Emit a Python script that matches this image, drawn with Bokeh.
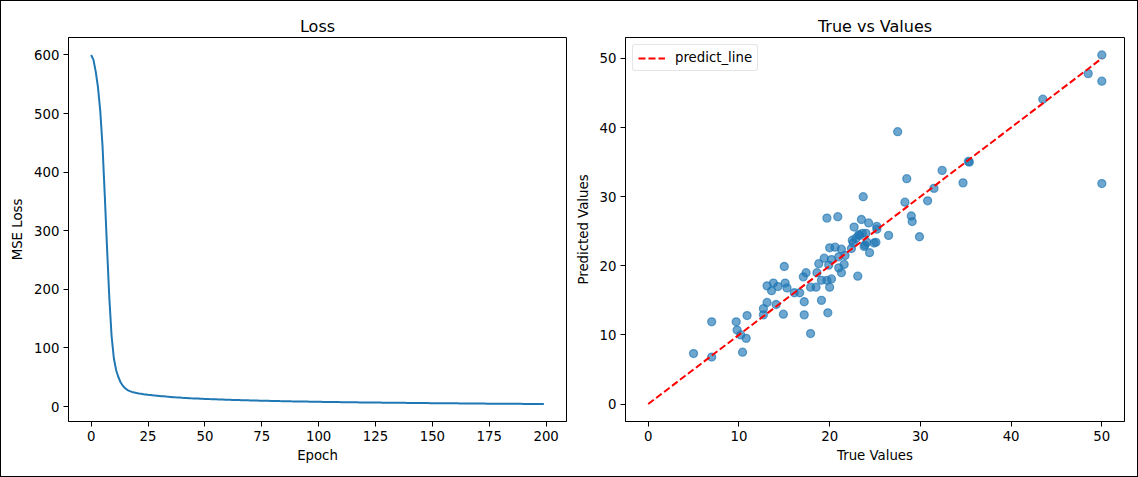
from bokeh.plotting import figure
from bokeh.layouts import row, column
from bokeh.models import Range1d, FixedTicker, Div
from bokeh.embed import file_html
from bokeh.resources import INLINE

# ---------------- data ----------------
loss = [
    600, 592, 572, 545, 505, 445, 360, 270, 185, 120,
    82, 62, 50, 41, 35, 31, 28.2, 26.4, 25.0, 24.0,
    23.1, 22.4, 21.8, 21.2, 20.7, 20.2, 19.8, 19.3, 18.9, 18.5,
    18.1, 17.7, 17.4, 17.0, 16.7, 16.4, 16.1, 15.8, 15.6, 15.3,
    15.0, 14.8, 14.6, 14.4, 14.1, 13.9, 13.7, 13.6, 13.4, 13.2,
    13.0, 12.9, 12.7, 12.6, 12.4, 12.3, 12.1, 12.0, 11.9, 11.7,
    11.6, 11.5, 11.4, 11.3, 11.1, 11.0, 10.9, 10.8, 10.7, 10.6,
    10.5, 10.4, 10.3, 10.2, 10.1, 10.0, 9.9, 9.85, 9.75, 9.65,
    9.55, 9.5, 9.4, 9.3, 9.25, 9.15, 9.1, 9.0, 8.9, 8.85,
    8.8, 8.7, 8.65, 8.55, 8.5, 8.45, 8.35, 8.3, 8.25, 8.2,
    8.1, 8.05, 8.0, 7.95, 7.9, 7.8, 7.75, 7.7, 7.65, 7.6,
    7.55, 7.5, 7.45, 7.4, 7.35, 7.3, 7.25, 7.2, 7.15, 7.1,
    7.05, 7.0, 6.95, 6.9, 6.85, 6.8, 6.8, 6.75, 6.7, 6.65,
    6.6, 6.55, 6.5, 6.5, 6.45, 6.4, 6.35, 6.3, 6.3, 6.25,
    6.2, 6.15, 6.1, 6.1, 6.05, 6.0, 5.95, 5.95, 5.9, 5.85,
    5.8, 5.8, 5.75, 5.7, 5.7, 5.65, 5.6, 5.6, 5.55, 5.5,
    5.5, 5.45, 5.4, 5.4, 5.35, 5.3, 5.3, 5.25, 5.2, 5.2,
    5.15, 5.1, 5.1, 5.05, 5.0, 5.0, 4.95, 4.95, 4.9, 4.85,
    4.85, 4.8, 4.8, 4.75, 4.7, 4.7, 4.65, 4.65, 4.6, 4.6,
    4.55, 4.5, 4.5, 4.45, 4.45, 4.4, 4.4, 4.35, 4.35, 4.3,
]
epochs = list(range(len(loss)))

true_vals = [
    5.0, 7.0, 7.0, 9.7, 9.8, 10.2, 10.4, 10.8, 10.9, 12.7,
    12.7, 13.1, 13.1, 13.6, 13.8, 14.1, 14.3, 14.9, 15.0, 15.1,
    15.3, 16.1, 16.7, 17.2, 17.2, 17.1, 17.4, 17.9, 17.9, 18.5,
    18.6, 18.8, 19.1, 19.1, 19.4, 19.7, 19.7, 19.8, 19.9, 20.0,
    20.0, 20.2, 20.2, 20.6, 20.9, 21.0, 21.3, 21.3, 21.6, 21.0,
    21.7, 22.4, 22.6, 22.7, 22.5, 23.1, 23.2, 23.5, 23.6, 23.7,
    23.9, 24.0, 24.3, 24.1, 24.4, 25.1, 25.2, 25.2, 24.9, 26.5,
    27.5, 28.3, 28.5, 29.0, 29.1, 29.9, 30.8, 31.5, 32.4, 34.7,
    35.3, 35.4, 43.5, 48.5, 50.0, 50.0, 50.0, 22.9, 23.3, 23.8,
]
pred_vals = [
    7.3, 6.8, 11.9, 11.9, 10.7, 10.0, 7.5, 9.5, 12.8, 12.9,
    13.8, 14.7, 17.1, 16.4, 17.5, 14.4, 17.0, 13.0, 19.9, 17.5,
    16.8, 16.1, 16.1, 14.8, 12.9, 18.4, 19.0, 10.2, 16.9, 16.9,
    19.0, 20.3, 15.0, 17.9, 21.1, 17.9, 26.9, 13.2, 20.1, 16.9,
    22.6, 18.1, 20.9, 22.7, 27.1, 19.7, 19.0, 22.4, 20.2, 21.3,
    21.5, 22.5, 23.3, 25.6, 23.7, 18.5, 24.5, 26.7, 24.7, 30.0,
    23.0, 24.7, 26.2, 23.4, 21.9, 23.4, 25.7, 25.3, 23.3, 24.4,
    39.4, 29.2, 32.6, 27.2, 26.4, 24.2, 29.4, 31.2, 33.8, 32.0,
    35.1, 35.0, 44.1, 47.8, 50.5, 46.7, 31.9, 24.0, 24.4, 22.8,
]
line_x = [min(0, min(true_vals)), max(true_vals)]
line_y = [min(0, min(true_vals)), max(true_vals)]

loss_ticks = [0, 25, 50, 75, 100, 125, 150, 175, 200]
loss_yticks = [0, 100, 200, 300, 400, 500, 600]
tv_ticks = [0, 10, 20, 30, 40, 50]

BLUE = "#1f77b4"
FONT = "DejaVu Sans"


def pad(lo, hi, frac=0.05):
    r = hi - lo
    return lo - frac * r, hi + frac * r


def style(p, xlabel, ylabel, xt, yt):
    p.title.text_font = FONT
    p.title.text_font_size = "16px"
    p.title.text_font_style = "normal"
    p.title.text_color = "black"
    p.title.align = "center"
    p.title.standoff = 4
    p.xgrid.visible = False
    p.ygrid.visible = False
    p.outline_line_color = "black"
    p.outline_line_width = 1
    p.outline_line_alpha = 1
    p.xaxis.axis_label = xlabel
    p.yaxis.axis_label = ylabel
    p.xaxis.ticker = FixedTicker(ticks=xt)
    p.yaxis.ticker = FixedTicker(ticks=yt)
    for ax in (p.xaxis, p.yaxis):
        ax.axis_line_color = "black"
        ax.axis_line_width = 1
        ax.major_tick_line_color = "black"
        ax.major_tick_line_width = 1
        ax.major_tick_out = 5
        ax.major_tick_in = 0
        ax.minor_tick_line_color = None
        ax.major_label_text_font = FONT
        ax.major_label_text_font_size = "13.3px"
        ax.major_label_text_color = "black"
        ax.axis_label_text_font = FONT
        ax.axis_label_text_font_size = "13.3px"
        ax.axis_label_text_font_style = "normal"
        ax.axis_label_text_color = "black"
        ax.major_label_standoff = 4
    p.xaxis.axis_label_standoff = 4
    p.yaxis.axis_label_standoff = 6
    p.background_fill_color = "white"
    p.border_fill_color = "white"


# ---------------- left: loss ----------------
x0, x1 = pad(min(epochs), max(epochs))
y0, y1 = pad(min(loss), max(loss))
p1 = figure(title="Loss", output_backend="svg", toolbar_location=None,
            frame_width=498, frame_height=384,
            min_border_left=68, min_border_right=6, min_border_top=37, min_border_bottom=55,
            x_range=Range1d(x0, x1), y_range=Range1d(y0, y1))
p1.line(epochs, loss, line_color=BLUE, line_width=2)
style(p1, "Epoch", "MSE Loss", loss_ticks, loss_yticks)

# ---------------- right: true vs predicted ----------------
allx = true_vals + line_x
ally = pred_vals + line_y
x0, x1 = pad(min(allx), max(allx))
y0, y1 = pad(min(ally), max(ally))
p2 = figure(title="True vs Values", output_backend="svg", toolbar_location=None,
            frame_width=499, frame_height=384,
            min_border_left=52, min_border_right=13, min_border_top=37, min_border_bottom=55,
            x_range=Range1d(x0, x1), y_range=Range1d(y0, y1))
p2.scatter(true_vals, pred_vals, marker="circle", size=8, fill_color=BLUE, line_color=BLUE,
           fill_alpha=0.65, line_alpha=0.65, line_width=1.3)
p2.line(line_x, line_y, line_color="red", line_width=2, line_dash="7 3",
        legend_label="predict_line")
style(p2, "True Values", "Predicted Values", tv_ticks, tv_ticks)
lg = p2.legend[0]
lg.location = "top_left"
lg.margin = 7
lg.padding = 5
lg.spacing = 0
lg.glyph_width = 27
lg.glyph_height = 14
lg.label_height = 14
lg.label_standoff = 10
lg.label_text_font = FONT
lg.label_text_font_size = "13.3px"
lg.label_text_color = "black"
lg.border_line_color = "#cccccc"
lg.border_line_width = 1
lg.background_fill_alpha = 0.8
if "border_radius" in lg.properties():
    lg.border_radius = 3

frame_div = Div(text="", margin=0, styles={
    "position": "fixed", "left": "0px", "top": "0px",
    "width": "1138px", "height": "477px", "box-sizing": "border-box",
    "border": "1px solid #000", "pointer-events": "none", "z-index": "10",
})

layout = column(row(p1, p2), frame_div)
open("out.html", "w").write(file_html(layout, INLINE))
